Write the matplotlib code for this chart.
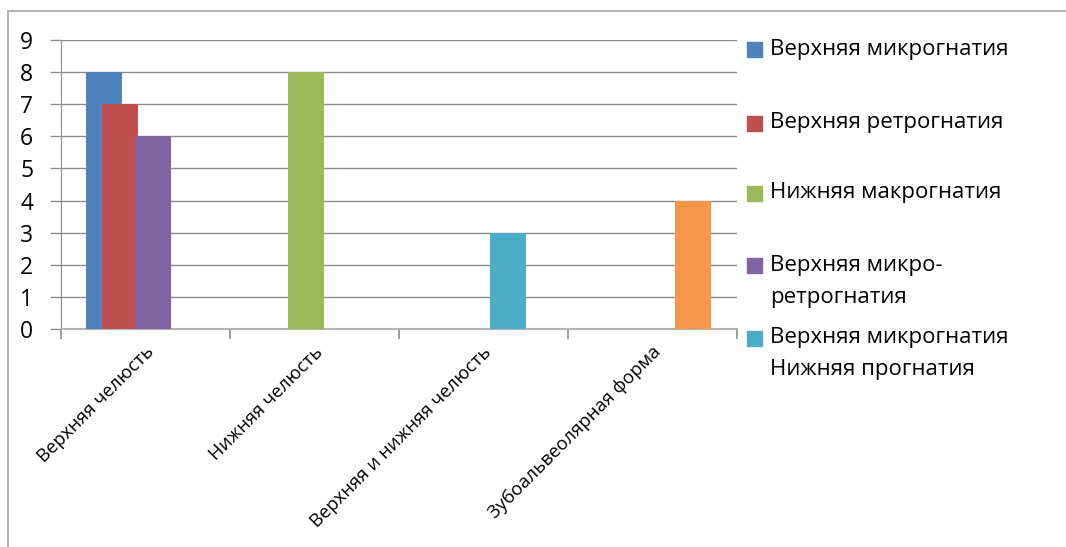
import matplotlib
matplotlib.use("Agg")
import matplotlib.pyplot as plt
import numpy as np
from matplotlib.patches import Rectangle
from matplotlib.lines import Line2D
from matplotlib.transforms import ScaledTranslation

plt.rcParams['font.family'] = ['Open Sans', 'DejaVu Sans']

# ---------------- data ----------------
categories = ["Верхняя челюсть", "Нижняя челюсть",
              "Верхняя и нижняя челюсть", "Зубоальвеолярная форма"]
series_names = ["Верхняя микрогнатия", "Верхняя ретрогнатия",
                "Нижняя макрогнатия", "Верхняя микро-\nретрогнатия",
                "Верхняя микрогнатия\nНижняя прогнатия", ""]
s1 = [8, 0, 0, 0]
s2 = [7, 0, 0, 0]
s3 = [0, 8, 0, 0]
s4 = [6, 0, 0, 0]
s5 = [0, 0, 3, 0]
s6 = [0, 0, 0, 4]
series_values = [s1, s2, s3, s4, s5, s6]
colors = ["#4F81BD", "#C0504D", "#9BBB59", "#8064A2", "#4BACC6", "#F79646"]
yticks = list(range(0, 10))

# ---------------- layout ----------------
W, H = 1066, 547
fig = plt.figure(figsize=(W / 100, H / 100), dpi=100)
fx = lambda x: x / W
fy = lambda y: 1 - y / H

ax_l, ax_r, ax_t, ax_b = 61, 737, 40, 329
ax = fig.add_axes([fx(ax_l), fy(ax_b), fx(ax_r) - fx(ax_l), fy(ax_t) - fy(ax_b)])

cat_px = (ax_r - ax_l) / 4.0
bar_w = 36 / cat_px
gap = 25 / cat_px
step = 16.4 / cat_px
x = np.arange(len(categories))
for i, (vals, c) in enumerate(zip(series_values, colors)):
    left = x - 0.5 + gap + i * step
    ax.bar(left, vals, width=bar_w, align='edge', color=c, zorder=3 + i * 0.01)

ax.set_xlim(-0.5, len(categories) - 0.5)
ax.set_ylim(0, 9)
ax.set_yticks(yticks)
ax.yaxis.grid(True, color="#8c8c8c", linewidth=1.0, zorder=1)
ax.set_axisbelow(True)

grid_c = "#8c8c8c"
for s in ["top", "right"]:
    ax.spines[s].set_visible(False)
ax.spines["left"].set_color(grid_c)
ax.spines["bottom"].set_color("#b4b4b4")
ax.spines["bottom"].set_linewidth(1.5)
ax.tick_params(axis='y', length=8, width=1, color=grid_c, labelsize=16.5, pad=12,
               labelcolor="black")

ax.set_xticks(x)
ax.set_xticks(np.arange(-0.5, len(categories)), minor=True)
ax.tick_params(axis='x', which='major', length=0, pad=10)
ax.tick_params(axis='x', which='minor', length=7, width=1.2, color=grid_c)
ax.set_xticklabels(categories, rotation=45, ha='right', va='top',
                   rotation_mode='anchor', fontsize=13.3)
off = ScaledTranslation(-1 / 100, 0, fig.dpi_scale_trans)
for lab in ax.get_xticklabels():
    lab.set_transform(lab.get_transform() + off)

# ---------------- legend ----------------
leg_y = [49, 123, 193, 265, 338]
for name, c, y in zip(series_names[:5], colors[:5], leg_y):
    fig.patches.append(Rectangle((fx(747), fy(y + 7.5)), fx(15), 15 / H,
                                 transform=fig.transFigure, color=c))
    for k, line in enumerate(name.split("\n")):
        fig.text(fx(770), fy(y + k * 32), line, fontsize=16,
                 va='center', ha='left', color="black")

# ---------------- chart border ----------------
bc = "#a6a6a6"
fig.add_artist(Line2D([fx(8), fx(8)], [fy(11), 0], transform=fig.transFigure,
                      color=bc, linewidth=1.2))
fig.add_artist(Line2D([fx(8), 1], [fy(11), fy(11)], transform=fig.transFigure,
                      color=bc, linewidth=1.2))

fig.savefig("out.png", dpi=100, facecolor="white")
